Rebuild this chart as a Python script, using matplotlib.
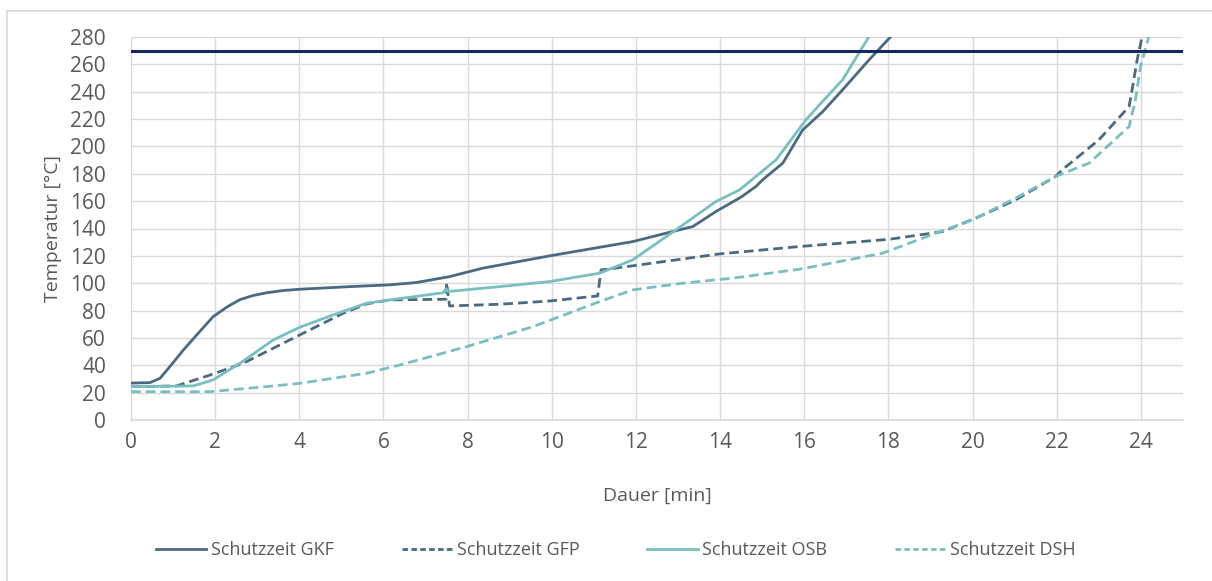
import matplotlib
matplotlib.use("Agg")
import matplotlib.pyplot as plt
from matplotlib.lines import Line2D

plt.rcParams['font.family'] = ['Open Sans', 'DejaVu Sans']

# Temperature curves over time (minutes, °C)
gkf_t = [0, 0.45, 0.69, 0.95, 1.24, 1.6, 1.95, 2.3, 2.59, 2.9, 3.22, 3.6, 4.01, 5.2,
         6.15, 6.78, 7.57, 8.36, 9.95, 11.92, 13.03, 13.35, 13.9, 14.5, 14.85, 15.01,
         15.49, 15.96, 16.44, 16.91, 17.54, 18.06, 18.3]
gkf_temp = [27, 27.3, 30.5, 40, 51, 63.5, 75.5, 83, 88, 91, 93, 94.6, 95.6, 97.5,
            98.8, 100.5, 104.8, 111, 120, 130.4, 139, 141.4, 152.4, 163, 170.7, 175.6,
            187.8, 212, 225.5, 241.4, 263.3, 280.4, 290]

gfp_t = [0, 1.08, 1.88, 2.67, 4.01, 5.04, 5.6, 6.15, 7.49, 7.5, 7.57, 8.76, 9.95,
         11.09, 11.17, 11.92, 13.98, 15.88, 18.02, 19.28, 20.07, 21.02, 21.97, 22.13,
         23.0, 23.72, 23.79, 23.91, 24.03, 24.1]
gfp_temp = [24.4, 24.9, 32.9, 41.5, 62.2, 78, 84.9, 87.8, 88.3, 100.5, 83.4, 84.6, 87,
            90.7, 109.7, 112.7, 121.4, 126.8, 132.1, 137.7, 147.5, 160.9, 178, 182.9,
            204.8, 229.2, 241.4, 263.3, 280.4, 300]

osb_t = [0, 1.48, 1.95, 2.59, 3.38, 4.01, 4.8, 5.6, 6.15, 7.41, 7.49, 7.52, 8.76,
         9.95, 11.13, 11.92, 12.95, 13.9, 14.46, 15.33, 16.04, 16.36, 16.91, 17.54, 17.8]
osb_temp = [24.4, 24.9, 29.3, 41.5, 58.5, 67.8, 76.8, 85.4, 87.8, 93, 96, 93.9, 97.5,
            101.2, 107.3, 117, 139, 159.7, 168.2, 190.2, 219.5, 230.4, 248.7, 280.4, 295]

dsh_t = [0, 1.88, 3.22, 4.01, 5.6, 6.39, 7.97, 9.55, 11.13, 11.92, 13.11, 14.3, 15.88,
         17.86, 19.13, 20.0, 21.02, 21.97, 22.77, 23.72, 23.87, 23.99, 24.19, 24.3]
dsh_temp = [20.7, 20.7, 24.4, 26.8, 34.2, 40.2, 53.6, 68.2, 86.5, 95.1, 100, 103.7,
            110.2, 121.9, 136.6, 146.3, 162.2, 178, 187.8, 214.6, 234.1, 258.4, 280.4, 300]

limit_temp = 270

series_labels = ["Schutzzeit GKF", "Schutzzeit GFP", "Schutzzeit OSB", "Schutzzeit DSH"]
x_ticks = list(range(0, 25, 2))
y_ticks = list(range(0, 281, 20))

dark = "#4b6a7f"
teal = "#79bfbf"
navy = "#13295b"
grid_c = "#d9d9d9"
text_c = "#595959"
dash = (0, (3.5, 1.8))

fig = plt.figure(figsize=(12.12, 5.81), dpi=100)
ax = fig.add_axes([131 / 1212, 1 - 420 / 581, (1183 - 131) / 1212, (420 - 37) / 581])

ax.plot(gkf_t, gkf_temp, color=dark, lw=2.0, label=series_labels[0], zorder=4)
ax.plot(gfp_t, gfp_temp, color=dark, lw=2.0, ls=dash, label=series_labels[1], zorder=4)
ax.plot(osb_t, osb_temp, color=teal, lw=2.0, label=series_labels[2], zorder=4)
ax.plot(dsh_t, dsh_temp, color=teal, lw=2.0, ls=dash, label=series_labels[3], zorder=4)
ax.axhline(limit_temp, color=navy, lw=2.2, zorder=5)

ax.set_xlim(0, 25)
ax.set_ylim(0, 280)
ax.set_xticks(x_ticks)
ax.set_yticks(y_ticks)
ax.grid(True, color=grid_c, lw=1.0)
ax.set_axisbelow(True)
for s in ["top", "right", "left"]:
    ax.spines[s].set_visible(False)
ax.spines["bottom"].set_color(grid_c)
ax.spines["bottom"].set_linewidth(1.2)
ax.tick_params(length=0, colors=text_c, labelsize=15, pad=9)
ax.tick_params(axis="y", pad=18)

ax.set_xlabel("Dauer [min]", fontsize=14, color=text_c, labelpad=24)
ax.set_ylabel("Temperatur [°C]", fontsize=14, color=text_c, labelpad=6)

handles = [Line2D([], [], color=dark, lw=2.0),
           Line2D([], [], color=dark, lw=2.0, ls=(0, (2, 1.2))),
           Line2D([], [], color=teal, lw=2.0),
           Line2D([], [], color=teal, lw=2.0, ls=(0, (2, 1.2)))]
fig.legend(handles, series_labels, loc="center", bbox_to_anchor=(0.508, 1 - 550 / 581),
           ncol=4, frameon=False, fontsize=13, handlelength=2.8, handletextpad=0.25,
           columnspacing=3.75, labelcolor=text_c)

# outer chart frame
fig.add_artist(Line2D([7 / 1212, 7 / 1212], [0, 1 - 11 / 581], transform=fig.transFigure,
                      color="#d9d9d9", lw=1.2))
fig.add_artist(Line2D([7 / 1212, 1], [1 - 11 / 581, 1 - 11 / 581], transform=fig.transFigure,
                      color="#d9d9d9", lw=1.2))

fig.savefig("out.png", dpi=100, facecolor="white")
